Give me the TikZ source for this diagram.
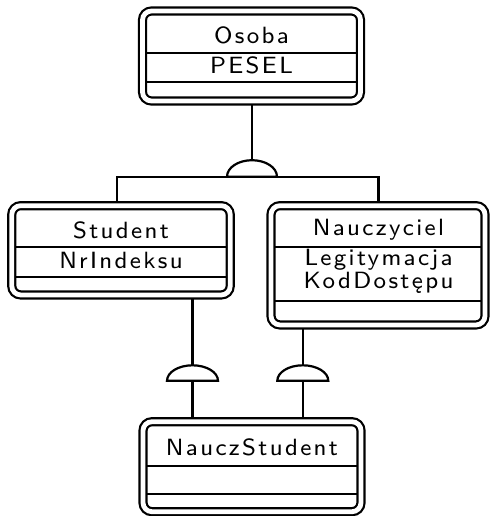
\documentclass[tikz,border=0pt]{standalone}
\usepackage{fontspec}
\newfontfamily\erfont{lmsans8-regular.otf}[LetterSpace=10]
\usetikzlibrary{calc,backgrounds}
\begin{document}
\begin{tikzpicture}[x=1pt,y=-1pt,
  entity/.style={draw,double,line width=2.2pt,double distance=4.8pt,rounded corners=9pt,
    inner sep=0pt,outer sep=0pt,fill=white},
  divider/.style={line width=1.8pt},
  erlabel/.style={font=\erfont\fontsize{23.5}{27}\selectfont,inner sep=0pt,anchor=base},
  wire/.style={line width=2.4pt},
  gate/.style={line width=2.2pt,fill=white}]
\useasboundingbox (0,0) rectangle (490,516);

% entity boxes
\node[entity,minimum width=218pt,minimum height=90pt] (osoba) at (251.5,56) {};
\node[entity,minimum width=218.5pt,minimum height=89.3pt] (student) at (121,250.3) {};
\node[entity,minimum width=214pt,minimum height=119.3pt] (nauczyciel) at (378,265.3) {};
\node[entity,minimum width=218pt,minimum height=90pt] (nauczstudent) at (252,466.7) {};

% compartment lines
\draw[divider] ($(osoba.north west)+(3.5,41.7)$) -- ($(osoba.north east)+(-3.5,41.7)$);
\draw[divider] ($(osoba.north west)+(3.5,70.7)$) -- ($(osoba.north east)+(-3.5,70.7)$);
\draw[divider] ($(student.north west)+(3.5,41.6)$) -- ($(student.north east)+(-3.5,41.6)$);
\draw[divider] ($(student.north west)+(3.5,71)$) -- ($(student.north east)+(-3.5,71)$);
\draw[divider] ($(nauczyciel.north west)+(3.5,41.6)$) -- ($(nauczyciel.north east)+(-3.5,41.6)$);
\draw[divider] ($(nauczyciel.north west)+(3.5,95.3)$) -- ($(nauczyciel.north east)+(-3.5,95.3)$);
\draw[divider] ($(nauczstudent.north west)+(3.5,44)$) -- ($(nauczstudent.north east)+(-3.5,44)$);
\draw[divider] ($(nauczstudent.north west)+(3.5,72.6)$) -- ($(nauczstudent.north east)+(-3.5,72.6)$);

% names and attributes
\node[erlabel] (osobaName) at (251.5,43.3) {Osoba};
\node[erlabel] (osobaAttr) at (251.5,73.3) {PESEL};
\node[erlabel] (studentName) at (121,238.8) {Student};
\node[erlabel] (studentAttr) at (121,268) {NrIndeksu};
\node[erlabel] (nauczycielName) at (378.5,235.7) {Nauczyciel};
\node[erlabel] (nauczycielAttrA) at (378.5,265.2) {Legitymacja};
\node[erlabel] (nauczycielAttrB) at (378.5,288) {KodDostępu};
\node[erlabel] (nauczstudentName) at (252,455) {NauczStudent};

% inheritance junctions
\coordinate (g0) at (252,176.7);
\coordinate (bl) at (116.7,176.7);
\coordinate (br) at (378.3,176.7);
\coordinate (g1) at (192.5,380.8);
\coordinate (g2) at (302.8,380.8);

\begin{scope}[on background layer]
  \draw[wire] (osoba.south -| g0) -- (g0);
  \draw[wire] (student.north -| bl) -- (bl) -- (br) -- (nauczyciel.north -| br);
  \draw[wire] (student.south -| g1) -- (nauczstudent.north -| g1);
  \draw[wire] (nauczyciel.south -| g2) -- (nauczstudent.north -| g2);
\end{scope}

\draw[gate] ($(g0)+(-25,0)$) arc[start angle=180,end angle=360,x radius=25,y radius=16.5] -- cycle;
\draw[gate] ($(g1)+(-25.5,0)$) arc[start angle=180,end angle=360,x radius=25.5,y radius=15.5] -- cycle;
\draw[gate] ($(g2)+(-25.5,0)$) arc[start angle=180,end angle=360,x radius=25.5,y radius=15.5] -- cycle;
\end{tikzpicture}
\end{document}
